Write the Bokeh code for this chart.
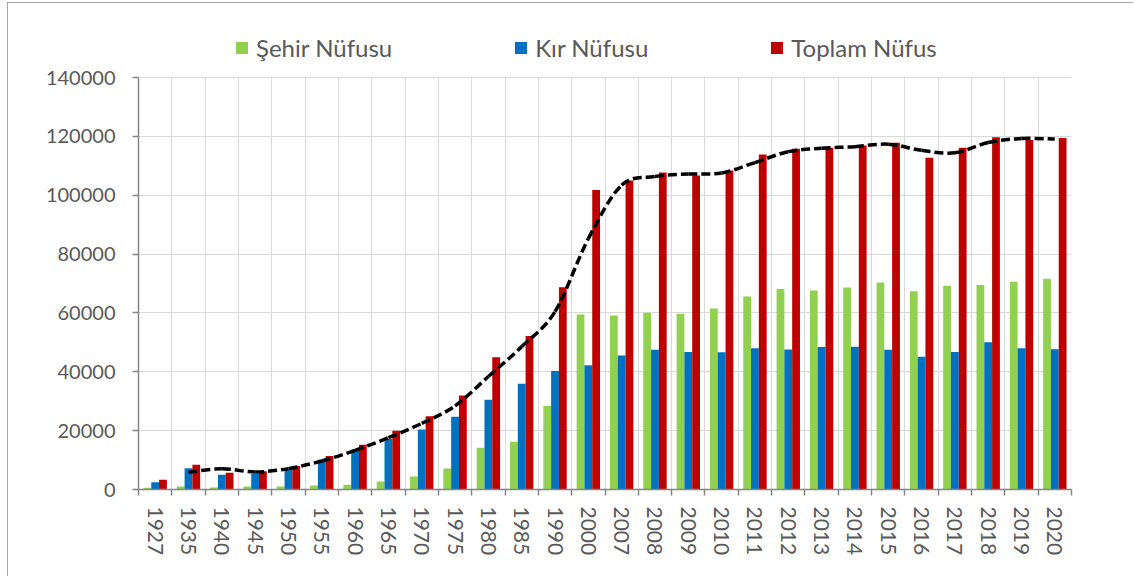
from bokeh.plotting import figure
from bokeh.models import (Range1d, FixedTicker, BasicTickFormatter, Legend, LegendItem,
                          ColumnDataSource)
from bokeh.embed import file_html
from bokeh.resources import INLINE

years = ["1927", "1935", "1940", "1945", "1950", "1955", "1960", "1965", "1970", "1975",
         "1980", "1985", "1990", "2000", "2007", "2008", "2009", "2010", "2011", "2012",
         "2013", "2014", "2015", "2016", "2017", "2018", "2019", "2020"]
sehir = [600, 1000, 700, 1000, 1000, 1400, 1600, 2700, 4400, 7100,
         14200, 16200, 28400, 59500, 59100, 60100, 59700, 61500, 65600, 68100,
         67600, 68600, 70300, 67400, 69200, 69500, 70600, 71600]
kir = [2500, 7200, 5000, 5300, 6700, 10100, 13600, 17200, 20400, 24700,
       30500, 35900, 40300, 42200, 45500, 47500, 46700, 46600, 48000, 47600,
       48400, 48500, 47500, 45100, 46700, 50000, 48000, 47700]
toplam = [3300, 8400, 5700, 6200, 8000, 11400, 15200, 20000, 24900, 31900,
          44900, 52200, 68700, 101800, 105000, 107700, 106700, 108400, 113800, 115800,
          116100, 116900, 117800, 112700, 116100, 119700, 118800, 119400]
y_ticks = [0, 20000, 40000, 60000, 80000, 100000, 120000, 140000]
series_names = ["Şehir Nüfusu", "Kır Nüfusu", "Toplam Nüfus"]
colors = ["#92D050", "#0070C0", "#C00000"]

n = len(years)
centers = [i + 0.5 for i in range(n)]
bar_w = 0.234
y_max = y_ticks[-1]

FONT = "Lato"
TXT = "#595959"
AX = "#868686"

# the frame is extended upward (above the 140000 line) so that the legend sits inside it
AXIS_PX = 412      # pixel height of 0..140000
FRAME_PX = 459     # frame height incl. legend band
y_end = y_max * FRAME_PX / AXIS_PX

p = figure(width=1126, height=574, output_backend="svg", toolbar_location=None,
           x_range=Range1d(0, n), y_range=Range1d(0, y_end),
           min_border_left=131, min_border_right=62, min_border_top=28, min_border_bottom=87)
p.styles = {"outline": "1.5px solid #8a8a8a", "outline-offset": "-1px",
            "margin-left": "7px", "margin-top": "2px"}
p.outline_line_color = None
p.background_fill_color = "white"

# grids
p.xgrid.ticker = FixedTicker(ticks=list(range(n + 1)))
p.xgrid.grid_line_color = "#d9d9d9"
p.xgrid.grid_line_width = 1
p.xgrid.cross_bounds = (0, y_max)
p.ygrid.ticker = FixedTicker(ticks=y_ticks)
p.ygrid.grid_line_color = "#d9d9d9"
p.ygrid.grid_line_width = 1

# x axis
xa = p.xaxis[0]
xa.ticker = FixedTicker(ticks=centers, minor_ticks=list(range(n + 1)))
xa.major_label_overrides = {c: y for c, y in zip(centers, years)}
xa.major_label_orientation = "vertical"
xa.major_tick_line_color = None
xa.major_tick_out = 0
xa.major_tick_in = 0
xa.minor_tick_line_color = AX
xa.minor_tick_line_width = 1.5
xa.minor_tick_out = 6
xa.minor_tick_in = 0
xa.axis_line_color = AX
xa.axis_line_width = 1.5
xa.major_label_standoff = 11
xa.major_label_text_font = FONT
xa.major_label_text_font_size = "21px"
xa.major_label_text_color = TXT

# y axis
ya = p.yaxis[0]
ya.ticker = FixedTicker(ticks=y_ticks)
ya.bounds = (0, y_max)
ya.formatter = BasicTickFormatter(use_scientific=False)
ya.minor_tick_line_color = None
ya.major_tick_line_color = AX
ya.major_tick_line_width = 1.5
ya.major_tick_out = 6
ya.major_tick_in = 0
ya.axis_line_color = AX
ya.axis_line_width = 1.5
ya.major_label_standoff = 17
ya.major_label_text_font = FONT
ya.major_label_text_font_size = "20px"
ya.major_label_text_color = TXT

# bars
offsets = [-bar_w, 0.0, bar_w]
renderers = []
for vals, off, col in zip([sehir, kir, toplam], offsets, colors):
    s = ColumnDataSource(dict(x=[c + off for c in centers], top=vals))
    r = p.vbar(x="x", top="top", width=bar_w, bottom=0, source=s,
               fill_color=col, line_color=None)
    renderers.append(r)

# 2-period moving average trendline of Toplam Nüfus (smoothed)
ma_x = [centers[i] for i in range(1, n)]
ma_y = [(toplam[i - 1] + toplam[i]) / 2 for i in range(1, n)]
m = len(ma_x)
x0, y0, x1, y1, cx0, cy0, cx1, cy1 = [], [], [], [], [], [], [], []
for i in range(m - 1):
    pa = max(i - 1, 0)
    pd = min(i + 2, m - 1)
    x0.append(ma_x[i]); y0.append(ma_y[i])
    x1.append(ma_x[i + 1]); y1.append(ma_y[i + 1])
    cx0.append(ma_x[i] + (ma_x[i + 1] - ma_x[pa]) / 6)
    cy0.append(ma_y[i] + (ma_y[i + 1] - ma_y[pa]) / 6)
    cx1.append(ma_x[i + 1] - (ma_x[pd] - ma_x[i]) / 6)
    cy1.append(ma_y[i + 1] - (ma_y[pd] - ma_y[i]) / 6)
p.bezier(x0=x0, y0=y0, x1=x1, y1=y1, cx0=cx0, cy0=cy0, cx1=cx1, cy1=cy1,
         line_color="black", line_width=3.5, line_dash="9 4")

legend = Legend(items=[LegendItem(label=nm, renderers=[r]) for nm, r in zip(series_names, renderers)],
                orientation="horizontal", location=(96, 427), spacing=121,
                glyph_width=15, glyph_height=15, label_standoff=7, padding=0, margin=0,
                label_text_font=FONT, label_text_font_size="24px", label_text_color=TXT,
                background_fill_alpha=0, border_line_color=None)
p.add_layout(legend, "center")

open("out.html", "w").write(file_html(p, INLINE))
